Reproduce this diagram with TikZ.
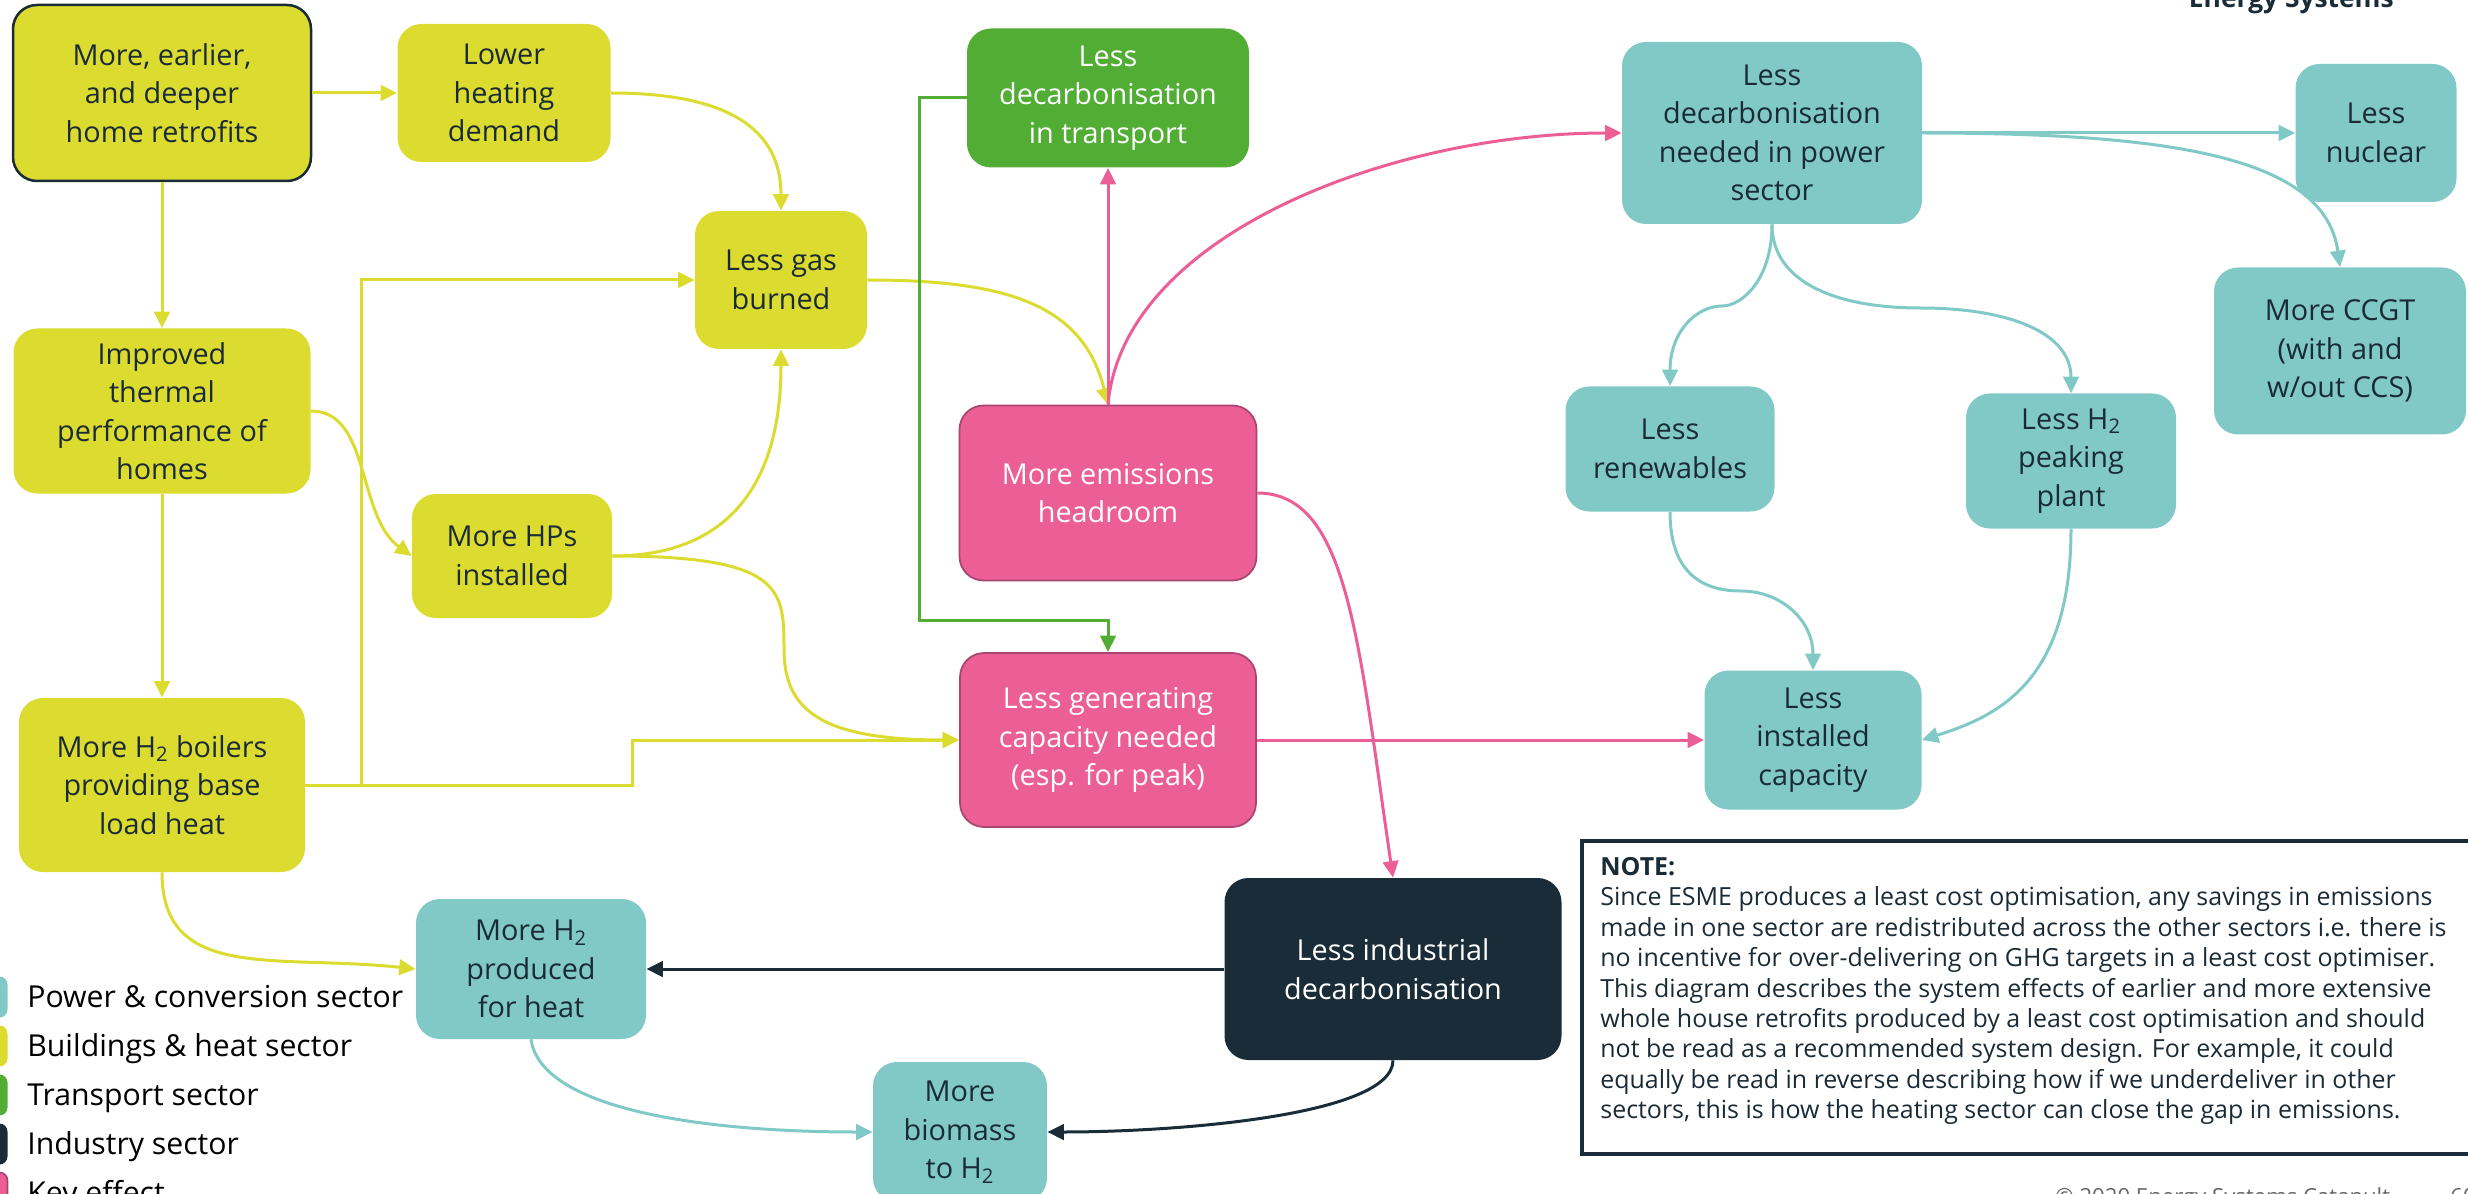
\documentclass[tikz,border=0pt]{standalone}
\usepackage{fontspec}
\setmainfont{Open Sans}
\usetikzlibrary{arrows.meta}

\definecolor{heatc}{HTML}{DCDC30}
\definecolor{powerc}{HTML}{80C9C7}
\definecolor{transc}{HTML}{52AD35}
\definecolor{indc}{HTML}{192C38}
\definecolor{keyc}{HTML}{EC5F96}
\definecolor{keyedge}{HTML}{A9456F}
\definecolor{ink}{HTML}{1B2B36}

\newcommand{\boxfont}{\fontsize{16.4}{21.9}\selectfont}
\newcommand{\legfont}{\fontsize{17.2}{20}\selectfont}
\newcommand{\notefont}{\fontsize{14.2}{17.3}\selectfont}

\tikzset{
  wh/.style 2 args={minimum width=#1*0.2mm, minimum height=#2*0.2mm},
  sector/.style={rounded corners=4.8mm, align=center, inner sep=0pt, font=\boxfont, text=ink},
  heat/.style={sector, fill=heatc},
  power/.style={sector, fill=powerc},
  trans/.style={sector, fill=transc, text=white},
  ind/.style={sector, fill=indc, text=white},
  key/.style={sector, fill=keyc, draw=keyedge, line width=0.35mm, text=white},
  link/.style={line width=0.6mm, -{Triangle[length=3.3mm, width=3.1mm]}},
  heatlink/.style={link, draw=heatc},
  powlink/.style={link, draw=powerc},
  translink/.style={link, draw=transc},
  indlink/.style={link, draw=indc},
  keylink/.style={link, draw=keyc},
  legsq/.style={rounded corners=1.6mm, minimum size=8.2mm, inner sep=0pt},
  legtext/.style={font=\legfont, text=black, inner sep=0pt, anchor=base west}
}

\begin{document}
\begin{tikzpicture}[x=0.2mm, y=-0.2mm]
\useasboundingbox (0,0) rectangle (2468,1194);
\clip (0,0) rectangle (2468,1194);

% buildings & heat
\node[heat, wh={298}{176}, draw=indc, line width=0.5mm] (retrofit) at (162,93) {More, earlier,\\and deeper\\home retrofits};
\node[heat, wh={213}{138}] (lowerheat) at (504,93) {Lower\\heating\\demand};
\node[heat, wh={297}{165}] (improved) at (162,411) {Improved\\thermal\\performance of\\homes};
\node[heat, wh={200}{124}] (moreHP) at (512,556) {More HPs\\installed};
\node[heat, wh={172}{138}] (lessgas) at (781,280) {Less gas\\burned};
\node[heat, wh={286}{174}] (h2boil) at (162,785) {More H\textsubscript{2} boilers\\providing base\\load heat};

% transport, industry, key effects
\node[trans, wh={282}{139}] (lesstrans) at (1108,98) {Less\\decarbonisation\\in transport};
\node[key, wh={297}{175}] (headroom) at (1108,493) {More emissions\\headroom};
\node[key, wh={296}{174}] (lessgen) at (1108,740) {Less generating\\capacity needed\\(esp. for peak)};
\node[ind, wh={337}{182}] (industry) at (1393,969) {Less industrial\\decarbonisation};

% power & conversion
\node[power, wh={230}{140}] (h2heat) at (531,969) {More H\textsubscript{2}\\produced\\for heat};
\node[power, wh={174}{140}] (biomass) at (960,1132) {More\\biomass\\to H\textsubscript{2}};
\node[power, wh={300}{182}] (power) at (1772,133) {Less\\decarbonisation\\needed in power\\sector};
\node[power, wh={161}{138}] (nuclear) at (2376,133) {Less\\nuclear};
\node[power, wh={252}{167}] (ccgt) at (2340,351) {More CCGT\\(with and\\w/out CCS)};
\node[power, wh={209}{125}] (renew) at (1670,449) {Less\\renewables};
\node[power, wh={210}{135}] (h2peak) at (2071,461) {Less H\textsubscript{2}\\peaking\\plant};
\node[power, wh={217}{139}] (installed) at (1813,740) {Less\\installed\\capacity};

% bends
\coordinate (hpbend) at (784,649);
\coordinate (renbend) at (1722,306);
\coordinate (peakbend) at (1920,308);
\coordinate (capbend) at (1741,591);

% heat links
\draw[heatlink] (retrofit.east) -- (lowerheat.west);
\draw[heatlink] (retrofit.south) -- (improved.north);
\draw[heatlink] (improved.south) -- (h2boil.north);
\draw[heatlink] (lowerheat.east) .. controls +(120,0) and +(0,-80) .. (lessgas.north);
\draw[heatlink] (improved.east) .. controls +(60,0) and +(-55,-40) .. (moreHP.west);
\draw[heatlink] (moreHP.east) .. controls +(120,0) and +(0,130) .. (lessgas.south);
\draw[heatlink] (moreHP.east) .. controls +(170,0) and +(0,-60) .. (hpbend) .. controls +(0,60) and +(-140,0) .. (lessgen.west);
\draw[heatlink] (lessgas.east) .. controls +(140,0) and +(-25,-100) .. (headroom.north);
\draw[heatlink] (h2boil.east) -- (361,785) |- (lessgas.west);
\draw[heatlink] (h2boil.east) -- (632,785) |- (lessgen.west);
\draw[heatlink] (h2boil.south) .. controls +(0,110) and +(-140,-15) .. (h2heat.west);

% key effect links
\draw[keylink] (headroom.north) -- (lesstrans.south);
\draw[keylink] (headroom.north) .. controls +(15,-170) and +(-230,0) .. (power.west);
\draw[keylink] (headroom.east) .. controls +(90,0) and +(-35,-240) .. (industry.north);
\draw[keylink] (lessgen.east) -- (installed.west);

% transport link
\draw[translink] (lesstrans.west) -| (919,620) -| (lessgen.north);

% power links
\draw[powlink] (power.east) -- (nuclear.west);
\draw[powlink] (power.east) .. controls +(250,0) and +(-15,-110) .. (ccgt.north);
\draw[powlink] (power.south) .. controls +(0,55) and +(20,0) .. (renbend) .. controls +(-25,0) and +(0,-55) .. (renew.north);
\draw[powlink] (power.south) .. controls +(0,60) and +(-80,0) .. (peakbend) .. controls +(90,0) and +(0,-60) .. (h2peak.north);
\draw[powlink] (renew.south) .. controls +(0,60) and +(-40,0) .. (capbend) .. controls +(40,0) and +(0,-50) .. (installed.north);
\draw[powlink] (h2peak.south) .. controls +(0,150) and +(80,-25) .. (installed.east);
\draw[powlink] (h2heat.south) .. controls +(10,70) and +(-170,0) .. (biomass.west);

% industry links
\draw[indlink] (industry.west) -- (h2heat.east);
\draw[indlink] (industry.south) .. controls +(0,55) and +(130,0) .. (biomass.east);

% legend
\node[legsq, fill=powerc] (sqpow) at (-13,997) {};
\node[legsq, fill=heatc] (sqheat) at (-13,1046) {};
\node[legsq, fill=transc] (sqtrans) at (-13,1095) {};
\node[legsq, fill=indc] (sqind) at (-13,1144) {};
\node[legsq, fill=keyc, draw=keyedge, line width=0.35mm] (sqkey) at (-13,1193) {};
\node[legtext] (legpow) at (27,1007) {Power \& conversion sector};
\node[legtext] (legheat) at (27,1056) {Buildings \& heat sector};
\node[legtext] (legtrans) at (27,1105) {Transport sector};
\node[legtext] (legind) at (27,1154) {Industry sector};
\node[legtext] (legkey) at (27,1203) {Key effect};

% note
\node[draw=indc, line width=0.8mm, anchor=north west, minimum width=930*0.2mm, minimum height=313*0.2mm] (notebox) at (1580,839) {};
\node[font=\notefont, text=ink, align=left, inner sep=0pt, anchor=north west] (note) at (1600,857)
  {\textbf{NOTE:}\\
   Since ESME produces a least cost optimisation, any savings in emissions\\
   made in one sector are redistributed across the other sectors i.e. there is\\
   no incentive for over-delivering on GHG targets in a least cost optimiser.\\
   This diagram describes the system effects of earlier and more extensive\\
   whole house retrofits produced by a least cost optimisation and should\\
   not be read as a recommended system design. For example, it could\\
   equally be read in reverse describing how if we underdeliver in other\\
   sectors, this is how the heating sector can close the gap in emissions.};

% header and footer
\node[font=\bfseries\fontsize{15}{17}\selectfont, text=indc, inner sep=0pt, anchor=base east] (brand) at (2394,8) {Energy Systems};
\node[font=\fontsize{12.6}{14}\selectfont, text=black!60, inner sep=0pt, anchor=base west] (copy) at (2055,1204) {\textcopyright{} 2020 Energy Systems Catapult};
\node[font=\fontsize{12.6}{14}\selectfont, text=black!60, inner sep=0pt, anchor=base west] (page) at (2450,1204) {60};
\end{tikzpicture}
\end{document}
